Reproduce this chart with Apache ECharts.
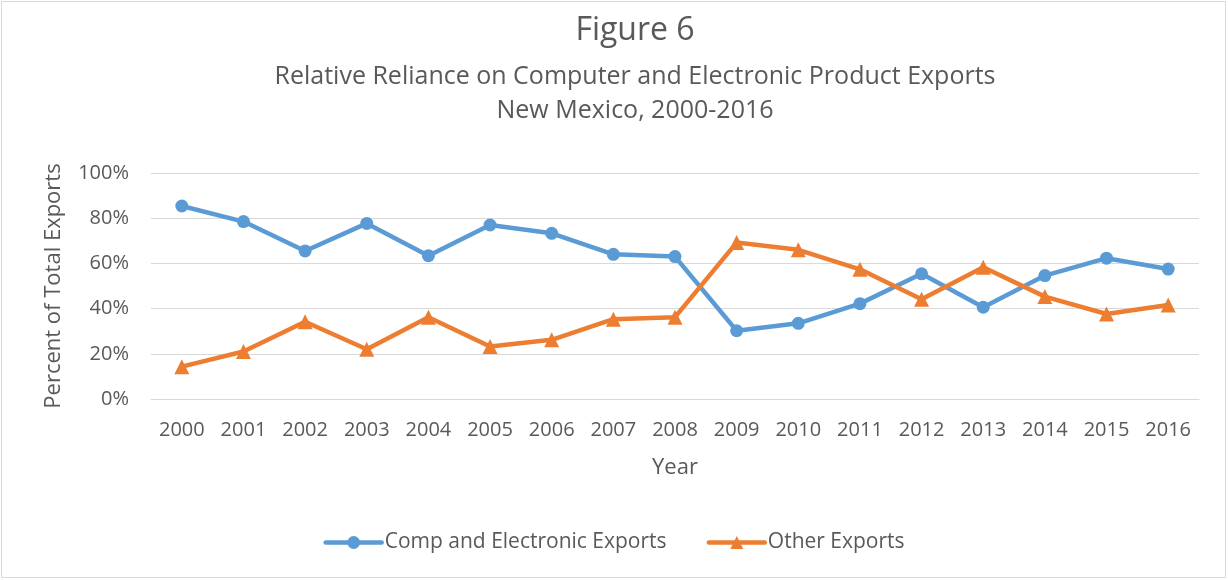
<!DOCTYPE html>
<html>
<head>
<meta charset="utf-8">
<script src="https://cdn.jsdelivr.net/npm/echarts@6/dist/echarts.min.js"></script>
<style>
  html, body { margin: 0; padding: 0; background: #fff; }
  #chart { width: 1228px; height: 580px; }
</style>
</head>
<body>
<div id="chart"></div>
<script>
var years = ['2000', '2001', '2002', '2003', '2004', '2005', '2006', '2007', '2008',
    '2009', '2010', '2011', '2012', '2013', '2014', '2015', '2016']
// percent of total exports
var compElec = [85.4, 78.5, 65.5, 77.7, 63.4, 77.0, 73.3, 64.0, 63.0,
    30.2, 33.5, 42.2, 55.4, 40.6, 54.6, 62.3, 57.5]
var otherExp = [14.3, 21.0, 34.2, 22.0, 36.2, 23.2, 26.2, 35.3, 36.2,
    69.2, 66.0, 57.4, 44.1, 58.3, 45.3, 37.6, 41.6]

var fontFam = '"Open Sans", "Liberation Sans", sans-serif'
var textCol = '#595959'

var chart = echarts.init(document.getElementById('chart'))

var option = {
    backgroundColor: '#fff',
    animation: false,
    graphic: [{
        type: 'rect',
        shape: { x: 1.5, y: 1.5, width: 1224, height: 576 },
        style: { fill: 'none', stroke: '#d9d9d9', lineWidth: 1 },
        silent: true
    }],
    title: [
        {
            text: 'Figure 6',
            left: 630,
            textAlign: 'center',
            top: 10,
            textStyle: { fontFamily: fontFam, fontSize: 32, fontWeight: 'normal', color: textCol }
        },
        {
            text: 'Relative Reliance on Computer and Electronic Product Exports\nNew Mexico, 2000-2016',
            left: 630,
            textAlign: 'center',
            top: 55,
            textStyle: { fontFamily: fontFam, fontSize: 25, fontWeight: 'normal', color: textCol, lineHeight: 34 }
        }
    ],
    legend: {
        bottom: 22,
        left: 'center',
        itemWidth: 56,
        itemHeight: 16,
        itemGap: 40,
        lineStyle: { width: 4.5, cap: 'round' },
        textStyle: { fontFamily: fontFam, fontSize: 21, color: textCol, padding: [0, 0, 0, -2] },
        data: ['Comp and Electronic Exports', 'Other Exports']
    },
    grid: {
        left: 151,
        right: 29,
        top: 173,
        bottom: 181
    },
    xAxis: {
        type: 'category',
        data: years,
        name: 'Year',
        nameLocation: 'middle',
        nameGap: 58,
        nameTextStyle: { fontFamily: fontFam, fontSize: 22, color: textCol },
        axisLine: { show: true, lineStyle: { color: '#d9d9d9', width: 1 } },
        axisTick: { show: false },
        axisLabel: { fontFamily: fontFam, fontSize: 20, color: textCol, margin: 21 }
    },
    yAxis: {
        type: 'value',
        min: 0,
        max: 100,
        interval: 20,
        name: 'Percent of Total Exports',
        nameLocation: 'middle',
        nameGap: 86,
        nameTextStyle: { fontFamily: fontFam, fontSize: 22, color: textCol },
        axisLine: { show: false },
        axisTick: { show: false },
        axisLabel: { fontFamily: fontFam, fontSize: 20, color: textCol, margin: 22, formatter: '{value}%' },
        splitLine: { lineStyle: { color: '#d9d9d9', width: 1 } }
    },
    series: [
        {
            name: 'Comp and Electronic Exports',
            type: 'line',
            data: compElec,
            symbol: 'circle',
            symbolSize: 13,
            color: '#5b9bd5',
            lineStyle: { width: 4.5, color: '#5b9bd5' },
            itemStyle: { color: '#5b9bd5' }
        },
        {
            name: 'Other Exports',
            type: 'line',
            data: otherExp,
            symbol: 'triangle',
            symbolSize: 15,
            color: '#ed7d31',
            lineStyle: { width: 4.5, color: '#ed7d31' },
            itemStyle: { color: '#ed7d31' }
        }
    ]
}
chart.setOption(option)
</script>
</body>
</html>
